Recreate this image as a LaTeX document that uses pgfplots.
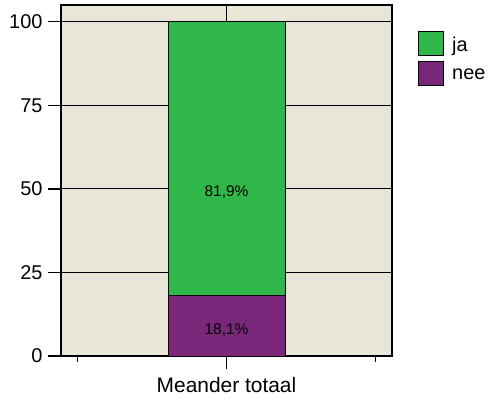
\documentclass[border=0pt]{standalone}
\usepackage{fontspec}
\setmainfont{Liberation Sans}
\usepackage{pgfplots}
\pgfplotsset{compat=1.18}
\definecolor{bg}{RGB}{234,230,215}
\definecolor{ja}{RGB}{48,183,74}
\definecolor{nee}{RGB}{122,38,122}
\begin{document}
\begin{tikzpicture}
\begin{axis}[
  scale only axis, width=331bp, height=351bp,
  xmin=-1.11, xmax=1.11, ymin=0, ymax=105,
  ybar stacked, bar width=117bp,
  axis background/.style={fill=bg},
  axis line style={black, line width=1.5bp},
  tick style={black, line width=1.5bp},
  tick align=outside, xtick pos=bottom, ytick pos=left,
  major tick length=6bp,
  xtick={-1,1}, xticklabels={},
  ytick=\empty,
  extra x ticks={0}, extra x tick labels={Meander totaal},
  extra y ticks={0,25,50,75,100},
  extra tick style={major tick length=13bp, grid=major},
  grid style={black, line width=1bp},
  yticklabel style={xshift=-2bp},
  xticklabel style={yshift=-5bp, font=\fontsize{21}{24}\selectfont},
  font=\fontsize{20}{24}\selectfont,
  /pgf/number format/assume math mode=true,
  reverse legend,
  legend style={at={(1,1)}, anchor=north west, xshift=26bp, yshift=-26bp,
    draw=none, fill=none, font=\fontsize{20}{24}\selectfont, row sep=5bp, inner sep=0pt,
    /tikz/every odd column/.append style={column sep=6bp}},
  legend cell align=left,
  legend image code/.code={\draw[#1, draw=black, line width=1bp] (0bp,-11bp) rectangle (25bp,13bp);},
]
\addplot[fill=nee, draw=black, line width=1bp] coordinates {(0,18.1)};
\addplot[fill=ja, draw=black, line width=1bp] coordinates {(0,81.9)};
\legend{nee,ja}
\coordinate (lja) at (axis cs:0,49.1);
\coordinate (lnee) at (axis cs:0,7.8);
\end{axis}
\node[font=\fontsize{15.5}{18}\selectfont, text=black] at (lja) {81,9\%};
\node[font=\fontsize{15.5}{18}\selectfont, text=black] at (lnee) {18,1\%};
\useasboundingbox (-61bp,-45bp) rectangle (429bp,356bp);
\end{tikzpicture}
\end{document}
